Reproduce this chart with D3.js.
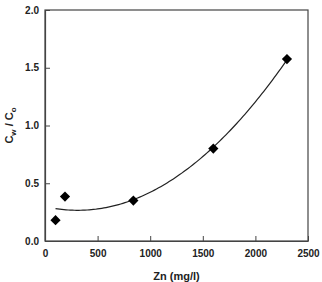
<!DOCTYPE html>
<html>
<head>
<meta charset="utf-8">
<script src="https://cdn.jsdelivr.net/npm/d3@7"></script>
<style>
  body { margin: 0; background: #fff; }
  text { font-family: "Liberation Sans", Arial, sans-serif; font-weight: bold; fill: #222; }
</style>
</head>
<body>
<svg width="322" height="282"></svg>
<script>
var zn = [100, 190, 840, 1600, 2300];
var ratio = [0.18, 0.385, 0.35, 0.80, 1.575];
var xTicks = [0, 500, 1000, 1500, 2000, 2500];
var yTicks = [0.0, 0.5, 1.0, 1.5, 2.0];

var svg = d3.select("svg");
var margin = {left: 45, top: 10, right: 14, bottom: 41};
var w = 322 - margin.left - margin.right, h = 282 - margin.top - margin.bottom;
var g = svg.append("g").attr("transform", "translate(" + margin.left + "," + margin.top + ")");

var x = d3.scaleLinear().domain([0, 2500]).range([0, w]);
var y = d3.scaleLinear().domain([0, 2]).range([h, 0]);

// quadratic least squares fit
function quadFit(xs, ys) {
  var n = xs.length, s = [0,0,0,0,0], t = [0,0,0];
  for (var i = 0; i < n; i++) {
    for (var k = 0; k < 5; k++) s[k] += Math.pow(xs[i], k);
    for (var k = 0; k < 3; k++) t[k] += ys[i] * Math.pow(xs[i], k);
  }
  var A = [[s[0], s[1], s[2], t[0]], [s[1], s[2], s[3], t[1]], [s[2], s[3], s[4], t[2]]];
  for (var c = 0; c < 3; c++) {
    for (var r = c + 1; r < 3; r++) {
      var f = A[r][c] / A[c][c];
      for (var j = c; j < 4; j++) A[r][j] -= f * A[c][j];
    }
  }
  var coef = [0,0,0];
  for (var r = 2; r >= 0; r--) {
    var v = A[r][3];
    for (var j = r + 1; j < 3; j++) v -= A[r][j] * coef[j];
    coef[r] = v / A[r][r];
  }
  return coef;
}
var cf = quadFit(zn, ratio);
var curve = d3.range(zn[0], zn[zn.length - 1] + 1, 20).map(function(v) {
  return [v, cf[0] + cf[1] * v + cf[2] * v * v];
});

// frame
g.append("rect").attr("width", w).attr("height", h)
  .attr("fill", "none").attr("stroke", "#444").attr("stroke-width", 1.2);

var xAxis = g.append("g").attr("transform", "translate(0," + h + ")")
  .call(d3.axisBottom(x).tickValues(xTicks).tickSizeInner(-5).tickSizeOuter(0).tickPadding(9).tickFormat(d3.format("d")));
var yAxis = g.append("g")
  .call(d3.axisLeft(y).tickValues(yTicks).tickSizeInner(-5).tickSizeOuter(0).tickPadding(6).tickFormat(d3.format(".1f")));
[xAxis, yAxis].forEach(function(a) {
  a.select(".domain").attr("stroke", "#444").attr("stroke-width", 1.2);
  a.selectAll(".tick line").attr("stroke", "#444");
  a.selectAll("text").attr("font-size", 10).attr("fill", "#222")
    .style("font-family", "Liberation Sans, Arial, sans-serif").style("font-weight", "bold");
});

g.append("path").datum(curve)
  .attr("d", d3.line().x(function(d) { return x(d[0]); }).y(function(d) { return y(d[1]); }))
  .attr("fill", "none").attr("stroke", "#222").attr("stroke-width", 1.2);

g.selectAll(".pt").data(zn).enter().append("path")
  .attr("class", "pt")
  .attr("d", d3.symbol().type(d3.symbolSquare).size(52))
  .attr("transform", function(d, i) { return "translate(" + x(d) + "," + y(ratio[i]) + ") rotate(45)"; })
  .attr("fill", "#000");

svg.append("text").attr("x", margin.left + w / 2).attr("y", 280)
  .attr("text-anchor", "middle").attr("font-size", 11).text("Zn (mg/l)");

var yl = svg.append("text").attr("transform", "translate(13," + (margin.top + h / 2) + ") rotate(-90)")
  .attr("text-anchor", "middle").attr("font-size", 11);
yl.append("tspan").text("C");
yl.append("tspan").attr("font-size", 8).attr("dy", 3).text("w");
yl.append("tspan").attr("dy", -3).text(" / C");
yl.append("tspan").attr("font-size", 8).attr("dy", 3).text("o");
</script>
</body>
</html>
